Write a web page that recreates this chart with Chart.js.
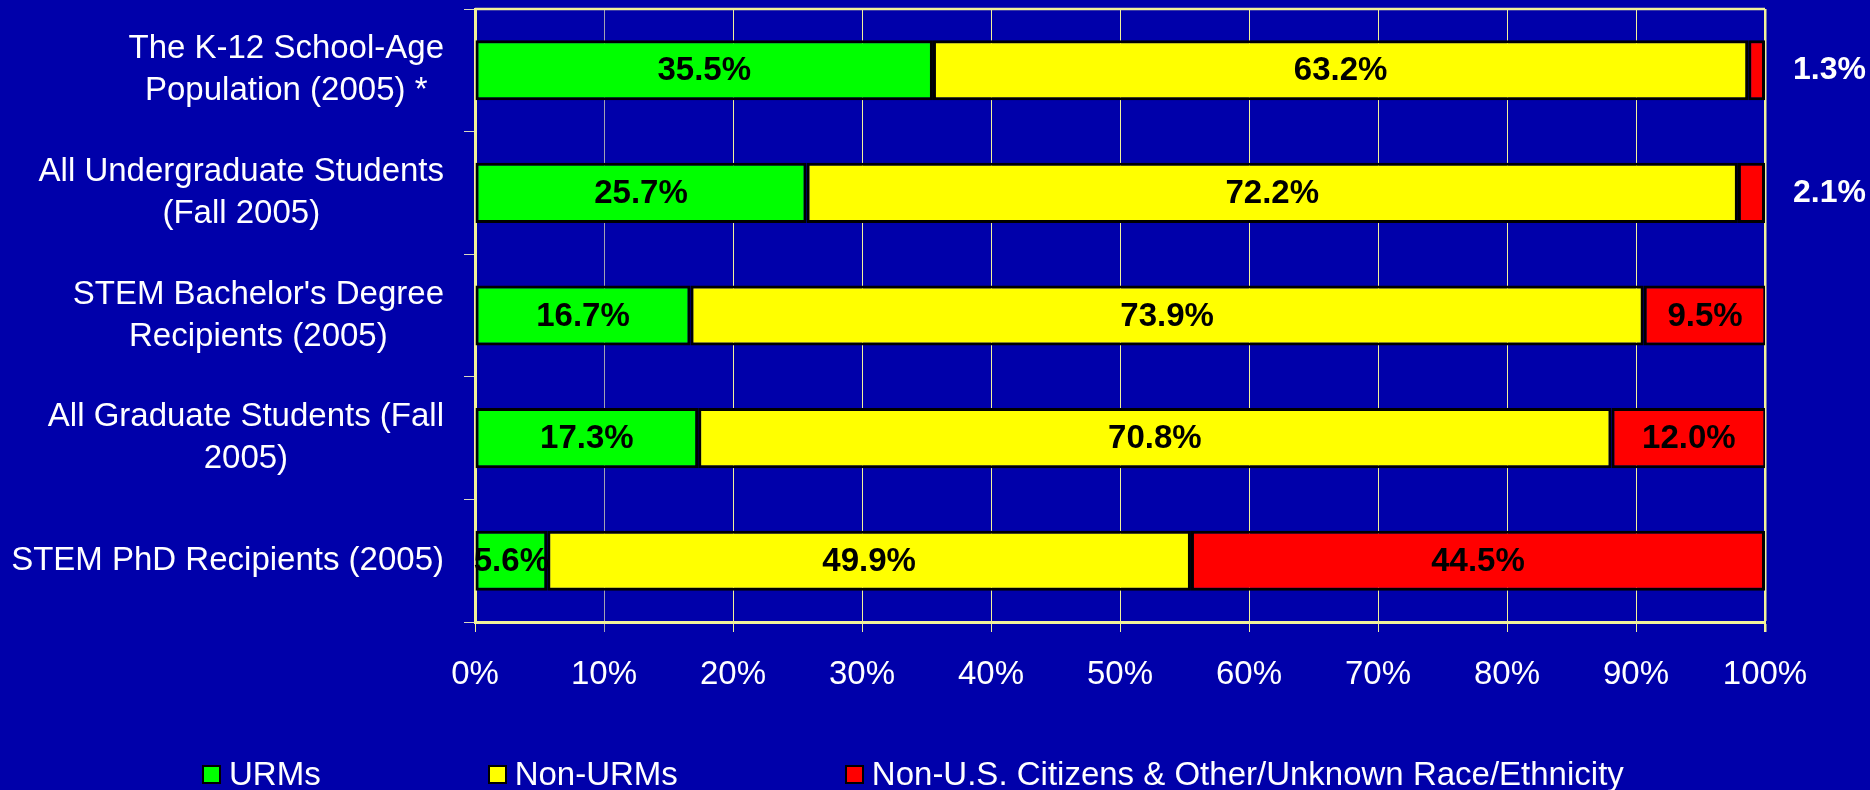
<!DOCTYPE html>
<html>
<head>
<meta charset="utf-8">
<title>URMs in STEM</title>
<script src="https://cdn.jsdelivr.net/npm/chart.js@4.4.0/dist/chart.umd.min.js"></script>
<style>
  html, body { margin: 0; padding: 0; background: #0000aa; }
  #wrap { position: relative; width: 1870px; height: 790px; overflow: hidden; }
  #legend {
    position: absolute; left: 202px; top: 755px; display: flex; align-items: center;
    font-family: "Liberation Sans", Arial, sans-serif; font-size: 33px; color: #fff; white-space: nowrap;
  }
  .item { display: flex; align-items: center; margin-right: 167px; }
  .box { width: 15px; height: 15px; border: 2px solid #000; margin-right: 8px; }
</style>
</head>
<body>
<div id="wrap">
  <canvas id="myChart" width="1870" height="790"></canvas>
  <div id="legend"></div>
</div>
<script>
// categories (each one may be broken on two lines)
var categories = [
  ["The K-12 School-Age", "Population (2005) *"],
  ["All Undergraduate Students", "(Fall 2005)"],
  ["STEM Bachelor's Degree", "Recipients (2005)"],
  ["All Graduate Students (Fall", "2005)"],
  ["STEM PhD Recipients (2005)"]
];
var seriesNames = ["URMs", "Non-URMs", "Non-U.S. Citizens & Other/Unknown Race/Ethnicity"];
var urms = [35.5, 25.7, 16.7, 17.3, 5.6];
var nonUrms = [63.2, 72.2, 73.9, 70.8, 49.9];
var others = [1.3, 2.1, 9.5, 12.0, 44.5];
var xTicks = [0, 10, 20, 30, 40, 50, 60, 70, 80, 90, 100];

var FONT = '"Liberation Sans", Arial, sans-serif';
var gridYellow = "#f2f29a";

// labels on the bars, small ones go to the right of the plot
const barLabels = {
  id: "barLabels",
  afterDatasetsDraw(chart) {
    const ctx = chart.ctx;
    const area = chart.chartArea;
    ctx.save();
    ctx.textBaseline = "middle";
    chart.data.datasets.forEach((ds, di) => {
      const meta = chart.getDatasetMeta(di);
      meta.data.forEach((bar, i) => {
        const v = ds.data[i];
        const p = bar.getProps(["x", "y", "base"], true);
        const txt = v.toFixed(1) + "%";
        if (v < 3) {
          ctx.font = "bold 32px " + FONT;
          ctx.fillStyle = "#ffffff";
          ctx.textAlign = "left";
          ctx.fillText(txt, area.right + 28, p.y);
        } else {
          ctx.font = "bold 33px " + FONT;
          ctx.fillStyle = "#000000";
          ctx.textAlign = "center";
          ctx.fillText(txt, (p.x + p.base) / 2, p.y + 1);
        }
      });
    });
    ctx.restore();
  }
};

// category labels: block right aligned, lines centred inside the block
const catLabels = {
  id: "catLabels",
  afterDraw(chart) {
    const ctx = chart.ctx;
    const yScale = chart.scales.y;
    const right = yScale.right - 31;
    ctx.save();
    ctx.font = "33px " + FONT;
    ctx.fillStyle = "#ffffff";
    ctx.textAlign = "center";
    ctx.textBaseline = "middle";
    chart.data.labels.forEach((lab, i) => {
      const lines = Array.isArray(lab) ? lab : [lab];
      let w = 0;
      lines.forEach((l) => { w = Math.max(w, ctx.measureText(l).width); });
      const cy = yScale.getPixelForValue(i);
      lines.forEach((l, j) => {
        ctx.fillText(l, right - w / 2, cy + (j - (lines.length - 1) / 2) * 42);
      });
    });
    // top edge of the plot frame
    const a = chart.chartArea;
    ctx.strokeStyle = gridYellow;
    ctx.lineWidth = 2.5;
    ctx.beginPath();
    ctx.moveTo(a.left, a.top);
    ctx.lineTo(a.right, a.top);
    ctx.stroke();
    ctx.restore();
  }
};

const ctx = document.getElementById("myChart");
const myChart = new Chart(ctx, {
  type: "bar",
  data: {
    labels: categories,
    datasets: [
      { label: seriesNames[0], data: urms, backgroundColor: "#00ff00" },
      { label: seriesNames[1], data: nonUrms, backgroundColor: "#ffff00" },
      { label: seriesNames[2], data: others, backgroundColor: "#ff0000" }
    ].map((d) => Object.assign(d, {
      borderColor: "#000000",
      borderWidth: 3,
      borderSkipped: false,
      categoryPercentage: 1,
      barPercentage: 0.49
    }))
  },
  options: {
    responsive: false,
    animation: false,
    indexAxis: "y",
    layout: { padding: { top: 9, right: 105, left: 0, bottom: 0 } },
    plugins: {
      legend: { display: false },
      tooltip: { enabled: false }
    },
    scales: {
      x: {
        stacked: true,
        min: 0,
        max: 100,
        afterBuildTicks: (scale) => { scale.ticks = xTicks.map((v) => ({ value: v })); },
        afterFit: (scale) => { scale.height = 168; },
        ticks: {
          color: "#ffffff",
          font: { family: FONT, size: 33 },
          padding: 23,
          maxRotation: 0,
          callback: (v) => v + "%"
        },
        grid: {
          tickLength: 10,
          color: (c) => (c.tick && c.tick.value === 10 ? "#a0a0b4" : gridYellow),
          lineWidth: (c) => (c.tick && c.tick.value === 100 ? 2.5 : 1)
        },
        border: { color: gridYellow, width: 3 }
      },
      y: {
        stacked: true,
        afterFit: (scale) => { scale.width = 475; },
        ticks: { display: false },
        grid: {
          drawOnChartArea: false,
          offset: true,
          tickLength: 11,
          color: "#d8d8c0"
        },
        border: { color: gridYellow, width: 3 }
      }
    }
  },
  plugins: [barLabels, catLabels]
});

// legend built from the chart's datasets
var legend = document.getElementById("legend");
myChart.data.datasets.forEach(function (ds) {
  var item = document.createElement("div");
  item.className = "item";
  var box = document.createElement("span");
  box.className = "box";
  box.style.background = ds.backgroundColor;
  var txt = document.createElement("span");
  txt.textContent = ds.label;
  item.appendChild(box);
  item.appendChild(txt);
  legend.appendChild(item);
});
</script>
</body>
</html>
